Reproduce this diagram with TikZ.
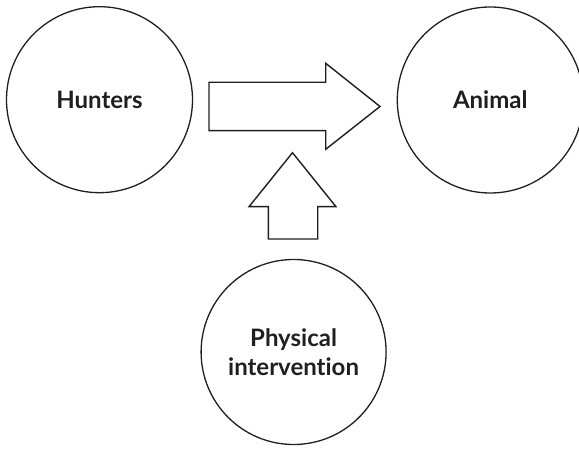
\documentclass[tikz,border=0pt]{standalone}
\usepackage{fontspec}
\setmainfont{Lato}[Ligatures=NoCommon]
\begin{document}
\begin{tikzpicture}[x=1pt,y=-1pt,
  ink/.style={draw=black!88, line width=1.3pt},
  bubble/.style={ink, circle, minimum size=186pt, inner sep=0pt, align=center,
    font=\fontsize{24}{29}\selectfont\bfseries, text=black!88},
  blockarrow/.style={ink, line width=1.4pt, fill=white, line join=miter}]
  \useasboundingbox (0,0) rectangle (579,449);
  \begin{scope}
    \clip (0,0) rectangle (579,449);
    \node[bubble] (hunters) at (99.5,99.7) {Hunters};
    \node[bubble] (animal) at (490.3,100) {Animal};
    \node[bubble, minimum size=185pt] (phys) at (293.6,352) {Physical\\intervention};
  \end{scope}
  % horizontal block arrow between the two upper circles
  \draw[blockarrow] (209,82.3) -- (325.7,82.3) -- (325.7,63.3) -- (380,106.5)
    -- (325.7,149.3) -- (325.7,130.7) -- (209,130.7) -- cycle;
  % upward block arrow from the lower circle
  \draw[blockarrow] (292.5,152.7) -- (336,206.7) -- (317.7,206.7) -- (317.7,239)
    -- (268.3,239) -- (268.3,206.7) -- (249,206.7) -- cycle;
\end{tikzpicture}
\end{document}
